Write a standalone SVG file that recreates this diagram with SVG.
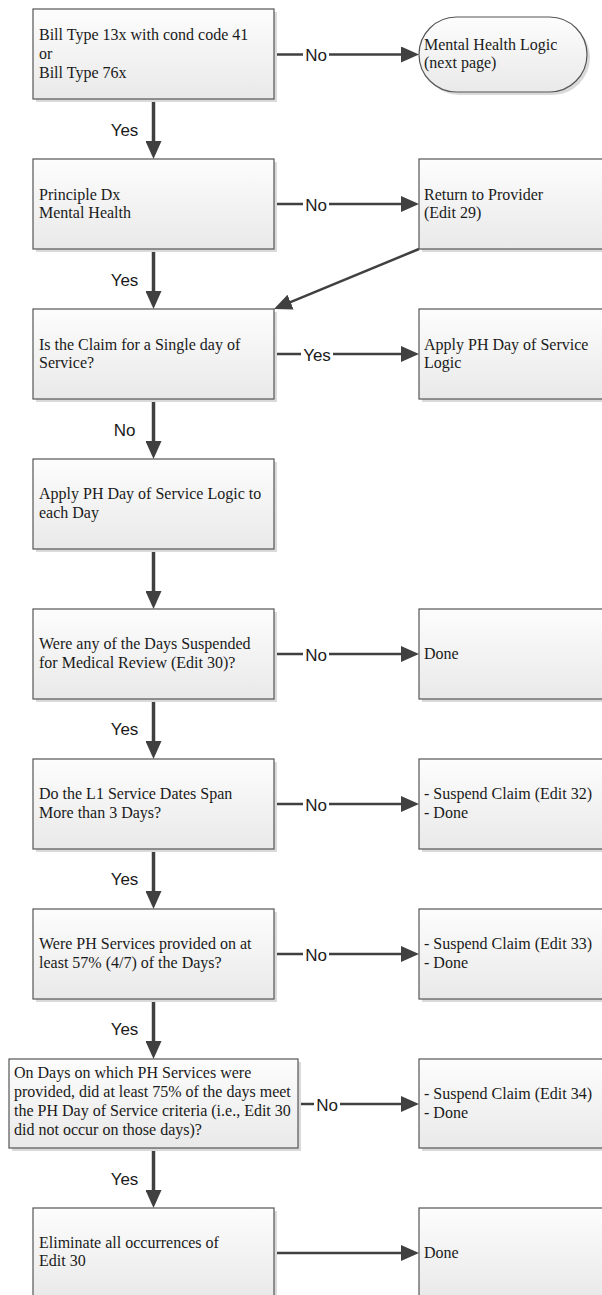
<svg xmlns="http://www.w3.org/2000/svg" width="602" height="1295" viewBox="0 0 602 1295">
<style>
.box{fill:url(#g);stroke:#555;stroke-width:1.2}
.sh{fill:#dadada}
.t{font-family:"Liberation Serif","Times New Roman",serif;font-size:16px;fill:#1a1a1a}
.lb{font-family:"Liberation Sans",Arial,sans-serif;font-size:17px;fill:#1a1a1a;text-anchor:middle}
.v{stroke:#404040;stroke-width:3.5;fill:none}
.h{stroke:#404040;stroke-width:2.5;fill:none}
.bg{fill:#fff}
</style>
<defs>
<linearGradient id="g" x1="0" y1="0" x2="0" y2="1">
<stop offset="0" stop-color="#fdfdfd"/>
<stop offset="1" stop-color="#e9e9e9"/>
</linearGradient>
<marker id="ah" markerUnits="userSpaceOnUse" markerWidth="18" markerHeight="16" refX="8" refY="8" orient="auto">
<path d="M0,0 L18,8 L0,16 z" fill="#404040"/>
</marker>
</defs>

<g id="connectors">
<line class="v" x1="153.5" y1="99" x2="153.5" y2="149" marker-end="url(#ah)"/>
<line class="v" x1="153.5" y1="249" x2="153.5" y2="299" marker-end="url(#ah)"/>
<line class="v" x1="153.5" y1="399" x2="153.5" y2="449" marker-end="url(#ah)"/>
<line class="v" x1="153.5" y1="549" x2="153.5" y2="599" marker-end="url(#ah)"/>
<line class="v" x1="153.5" y1="699" x2="153.5" y2="749" marker-end="url(#ah)"/>
<line class="v" x1="153.5" y1="849" x2="153.5" y2="899" marker-end="url(#ah)"/>
<line class="v" x1="153.5" y1="999" x2="153.5" y2="1049" marker-end="url(#ah)"/>
<line class="v" x1="153.5" y1="1148" x2="153.5" y2="1198" marker-end="url(#ah)"/>
<text class="lb" x="124.5" y="136">Yes</text>
<text class="lb" x="124.5" y="286">Yes</text>
<text class="lb" x="124.5" y="436">No</text>
<text class="lb" x="124.5" y="735">Yes</text>
<text class="lb" x="124.5" y="885">Yes</text>
<text class="lb" x="124.5" y="1035">Yes</text>
<text class="lb" x="124.5" y="1185">Yes</text>

<line class="h" x1="274" y1="54.5" x2="409" y2="54.5" marker-end="url(#ah)"/>
<line class="h" x1="274" y1="204" x2="409" y2="204" marker-end="url(#ah)"/>
<line class="h" x1="274" y1="354" x2="409" y2="354" marker-end="url(#ah)"/>
<line class="h" x1="274" y1="654" x2="409" y2="654" marker-end="url(#ah)"/>
<line class="h" x1="274" y1="804" x2="409" y2="804" marker-end="url(#ah)"/>
<line class="h" x1="274" y1="954" x2="409" y2="954" marker-end="url(#ah)"/>
<line class="h" x1="298" y1="1104" x2="409" y2="1104" marker-end="url(#ah)"/>
<line class="h" x1="274" y1="1253" x2="409" y2="1253" marker-end="url(#ah)"/>
<line class="h" x1="419" y1="249" x2="283.2" y2="305.2" marker-end="url(#ah)"/>

<rect class="bg" x="303" y="46" width="26" height="17"/>
<text class="lb" x="316" y="61">No</text>
<rect class="bg" x="303" y="196" width="26" height="17"/>
<text class="lb" x="316" y="210.5">No</text>
<rect class="bg" x="301" y="346" width="32" height="17"/>
<text class="lb" x="317" y="360.5">Yes</text>
<rect class="bg" x="303" y="646" width="26" height="17"/>
<text class="lb" x="316" y="660.5">No</text>
<rect class="bg" x="303" y="796" width="26" height="17"/>
<text class="lb" x="316" y="810.5">No</text>
<rect class="bg" x="303" y="946" width="26" height="17"/>
<text class="lb" x="316" y="960.5">No</text>
<rect class="bg" x="314" y="1096" width="26" height="17"/>
<text class="lb" x="327" y="1110.5">No</text>
</g>

<g id="n1">
<rect class="sh" x="36" y="12" width="241" height="90"/>
<rect class="box" x="33" y="9" width="241" height="90"/>
<text class="t" x="39" y="40">Bill Type 13x with cond code 41</text>
<text class="t" x="39" y="59">or</text>
<text class="t" x="39" y="78">Bill Type 76x</text>
</g>
<g id="r1">
<rect class="sh" x="422" y="20" width="168" height="75" rx="37.5"/>
<rect class="box" x="419" y="17" width="168" height="75" rx="37.5"/>
<text class="t" x="424" y="50">Mental Health Logic</text>
<text class="t" x="424" y="68">(next page)</text>
</g>

<g id="n2">
<rect class="sh" x="36" y="162" width="241" height="90"/>
<rect class="box" x="33" y="159" width="241" height="90"/>
<text class="t" x="39" y="200">Principle Dx</text>
<text class="t" x="39" y="218">Mental Health</text>
</g>
<g id="r2">
<rect class="sh" x="422" y="162" width="190" height="90"/>
<rect class="box" x="419" y="159" width="190" height="90"/>
<text class="t" x="424" y="200">Return to Provider</text>
<text class="t" x="424" y="218">(Edit 29)</text>
</g>

<g id="n3">
<rect class="sh" x="36" y="312" width="241" height="90"/>
<rect class="box" x="33" y="309" width="241" height="90"/>
<text class="t" x="39" y="350">Is the Claim for a Single day of</text>
<text class="t" x="39" y="368">Service?</text>
</g>
<g id="r3">
<rect class="sh" x="422" y="312" width="190" height="90"/>
<rect class="box" x="419" y="309" width="190" height="90"/>
<text class="t" x="424" y="350">Apply PH Day of Service</text>
<text class="t" x="424" y="368">Logic</text>
</g>

<g id="n4">
<rect class="sh" x="36" y="462" width="241" height="90"/>
<rect class="box" x="33" y="459" width="241" height="90"/>
<text class="t" x="39" y="499">Apply PH Day of Service Logic to</text>
<text class="t" x="39" y="518">each Day</text>
</g>

<g id="n5">
<rect class="sh" x="36" y="612" width="241" height="90"/>
<rect class="box" x="33" y="609" width="241" height="90"/>
<text class="t" x="39" y="649">Were any of the Days Suspended</text>
<text class="t" x="39" y="668">for Medical Review (Edit 30)?</text>
</g>
<g id="r5">
<rect class="sh" x="422" y="612" width="190" height="90"/>
<rect class="box" x="419" y="609" width="190" height="90"/>
<text class="t" x="424" y="658.5">Done</text>
</g>

<g id="n6">
<rect class="sh" x="36" y="762" width="241" height="90"/>
<rect class="box" x="33" y="759" width="241" height="90"/>
<text class="t" x="39" y="799">Do the L1 Service Dates Span</text>
<text class="t" x="39" y="818">More than 3 Days?</text>
</g>
<g id="r6">
<rect class="sh" x="422" y="762" width="190" height="90"/>
<rect class="box" x="419" y="759" width="190" height="90"/>
<text class="t" x="424" y="799">- Suspend Claim (Edit 32)</text>
<text class="t" x="424" y="818">- Done</text>
</g>

<g id="n7">
<rect class="sh" x="36" y="912" width="241" height="90"/>
<rect class="box" x="33" y="909" width="241" height="90"/>
<text class="t" x="39" y="949">Were PH Services provided on at</text>
<text class="t" x="39" y="968">least 57% (4/7) of the Days?</text>
</g>
<g id="r7">
<rect class="sh" x="422" y="912" width="190" height="90"/>
<rect class="box" x="419" y="909" width="190" height="90"/>
<text class="t" x="424" y="949">- Suspend Claim (Edit 33)</text>
<text class="t" x="424" y="968">- Done</text>
</g>

<g id="n8">
<rect class="sh" x="12" y="1062" width="289" height="89"/>
<rect class="box" x="9" y="1059" width="289" height="89"/>
<text class="t" x="14" y="1078">On Days on which PH Services were</text>
<text class="t" x="14" y="1097">provided, did at least 75% of the days meet</text>
<text class="t" x="14" y="1116">the PH Day of Service criteria (i.e., Edit 30</text>
<text class="t" x="14" y="1135">did not occur on those days)?</text>
</g>
<g id="r8">
<rect class="sh" x="422" y="1062" width="190" height="89"/>
<rect class="box" x="419" y="1059" width="190" height="89"/>
<text class="t" x="424" y="1099">- Suspend Claim (Edit 34)</text>
<text class="t" x="424" y="1118">- Done</text>
</g>

<g id="n9">
<rect class="sh" x="36" y="1211" width="241" height="90"/>
<rect class="box" x="33" y="1208" width="241" height="90"/>
<text class="t" x="39" y="1248">Eliminate all occurrences of</text>
<text class="t" x="39" y="1266">Edit 30</text>
</g>
<g id="r9">
<rect class="sh" x="422" y="1211" width="190" height="90"/>
<rect class="box" x="419" y="1208" width="190" height="90"/>
<text class="t" x="424" y="1258">Done</text>
</g>
</svg>
